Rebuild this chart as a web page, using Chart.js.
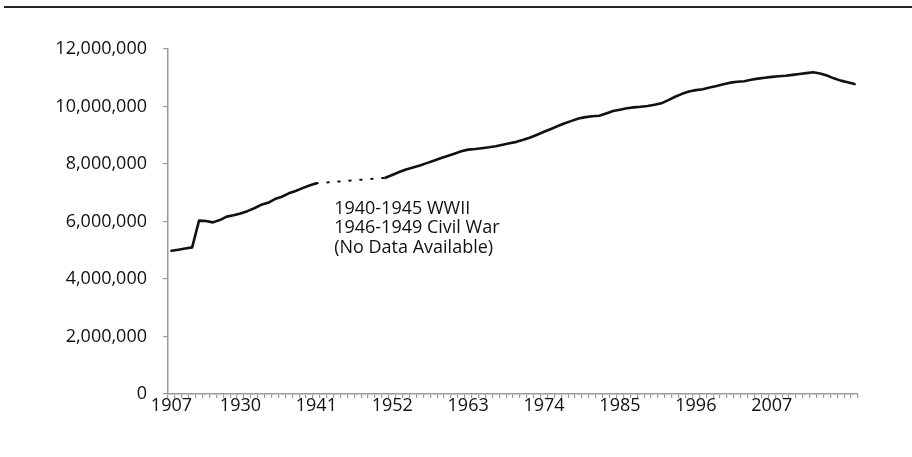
<!DOCTYPE html>
<html>
<head>
<meta charset="utf-8">
<script src="https://cdn.jsdelivr.net/npm/chart.js@4.4.1/dist/chart.umd.min.js"></script>
<style>
  html, body { margin: 0; padding: 0; background: #fff; }
  #wrap { position: relative; width: 912px; height: 457px; }
  #topRule { position: absolute; left: 4px; right: 0; top: 6px; border-top: 2px solid #262626; }
  canvas { display: block; }
</style>
</head>
<body>
<div id="wrap">
  <div id="topRule"></div>
  <canvas id="chart" width="912" height="457"></canvas>
</div>
<script>
// ---------------------- Data ----------------------
// early years are sparse, annual from 1930 on
const EARLY_YEARS = [1907, 1910, 1912, 1914, 1916, 1918, 1920, 1922, 1925, 1928];
const YEARS = EARLY_YEARS.concat(Array.from({ length: 90 }, (_, i) => 1930 + i));

const TICK_YEARS = [1907, 1930, 1941, 1952, 1963, 1974, 1985, 1996, 2007];

// values in millions, null = no data (war years)
const VALUES_M = [
  4.98, 5.02, 5.06, 5.10, 6.03, 6.02, 5.97, 6.05, 6.17, 6.22,
  6.28, 6.36, 6.46, 6.58, 6.65, 6.78, 6.86, 6.98, 7.06, 7.16,
  7.25, 7.33, null, null, null, null, null, null, null, null,
  null, 7.52, 7.62, 7.72, 7.81, 7.88, 7.95, 8.03, 8.11, 8.20,
  8.28, 8.36, 8.44, 8.50, 8.52, 8.55, 8.58, 8.62, 8.67, 8.72,
  8.77, 8.84, 8.92, 9.02, 9.12, 9.22, 9.32, 9.42, 9.50, 9.58,
  9.63, 9.66, 9.68, 9.76, 9.84, 9.89, 9.94, 9.97, 9.99, 10.02,
  10.06, 10.11, 10.22, 10.34, 10.44, 10.52, 10.57, 10.60, 10.66, 10.71,
  10.77, 10.83, 10.86, 10.88, 10.93, 10.97, 11.00, 11.03, 11.05, 11.07,
  11.10, 11.13, 11.16, 11.19, 11.15, 11.08, 10.98, 10.90, 10.84, 10.78,
];

const NOTE_LINES = ['1940-1945 WWII', '1946-1949 Civil War', '(No Data Available)'];

const FONT = { family: '"Open Sans", "Noto Sans", sans-serif', size: 18 };
const AXIS_GRAY = '#9a9a9a';

// segment touches a missing point -> dotted
const inGap = (c, val) => (c.p0.skip || c.p1.skip ? val : undefined);

// ---------------------- Plugins ----------------------
const noteLabel = {
  id: 'noteLabel',
  afterDatasetsDraw(chart) {
    const { ctx, scales: { x, y } } = chart;
    const left = x.getPixelForValue(23) + 4;
    const top = y.getPixelForValue(6450000);
    ctx.save();
    ctx.fillStyle = '#111';
    ctx.font = `${FONT.size}px ${FONT.family}`;
    ctx.textBaseline = 'middle';
    ctx.textAlign = 'left';
    NOTE_LINES.forEach((line, i) => ctx.fillText(line, left, top + i * 19.5));
    ctx.restore();
  },
};

// ---------------------- Chart ----------------------
new Chart(document.getElementById('chart'), {
  type: 'line',
  data: {
    labels: YEARS,
    datasets: [{
      data: VALUES_M.map(v => (v === null ? null : v * 1e6)),
      borderColor: '#111',
      borderWidth: 2.6,
      pointRadius: 0,
      tension: 0,
      spanGaps: true,
      borderJoinStyle: 'round',
      borderCapStyle: 'round',
      segment: {
        borderDash: (c) => inGap(c, [1.5, 9.5]),
        borderWidth: (c) => inGap(c, 2),
      },
    }],
  },
  options: {
    responsive: false,
    animation: false,
    layout: { padding: { left: 0, right: 54, top: 49, bottom: 0 } },
    plugins: { legend: { display: false }, tooltip: { enabled: false } },
    scales: {
      x: {
        type: 'category',
        offset: true,
        afterFit: (s) => { s.height = 63; },
        border: { color: AXIS_GRAY, width: 1.5 },
        grid: { offset: true, drawOnChartArea: false, tickLength: 4, color: AXIS_GRAY, lineWidth: 1.2 },
        ticks: {
          autoSkip: false,
          maxRotation: 0,
          padding: -3,
          color: '#111',
          font: FONT,
          callback: (val, i) => (TICK_YEARS.includes(YEARS[i]) ? String(YEARS[i]) : ''),
        },
      },
      y: {
        min: 0,
        max: 12000000,
        afterFit: (s) => { s.width = 168; },
        border: { color: AXIS_GRAY, width: 1.5 },
        grid: { drawOnChartArea: false, tickLength: 5, color: AXIS_GRAY, lineWidth: 1.2 },
        ticks: {
          stepSize: 2000000,
          padding: 16,
          color: '#111',
          font: FONT,
          callback: (v) => v.toLocaleString('en-US'),
        },
      },
    },
  },
  plugins: [noteLabel],
});
</script>
</body>
</html>
